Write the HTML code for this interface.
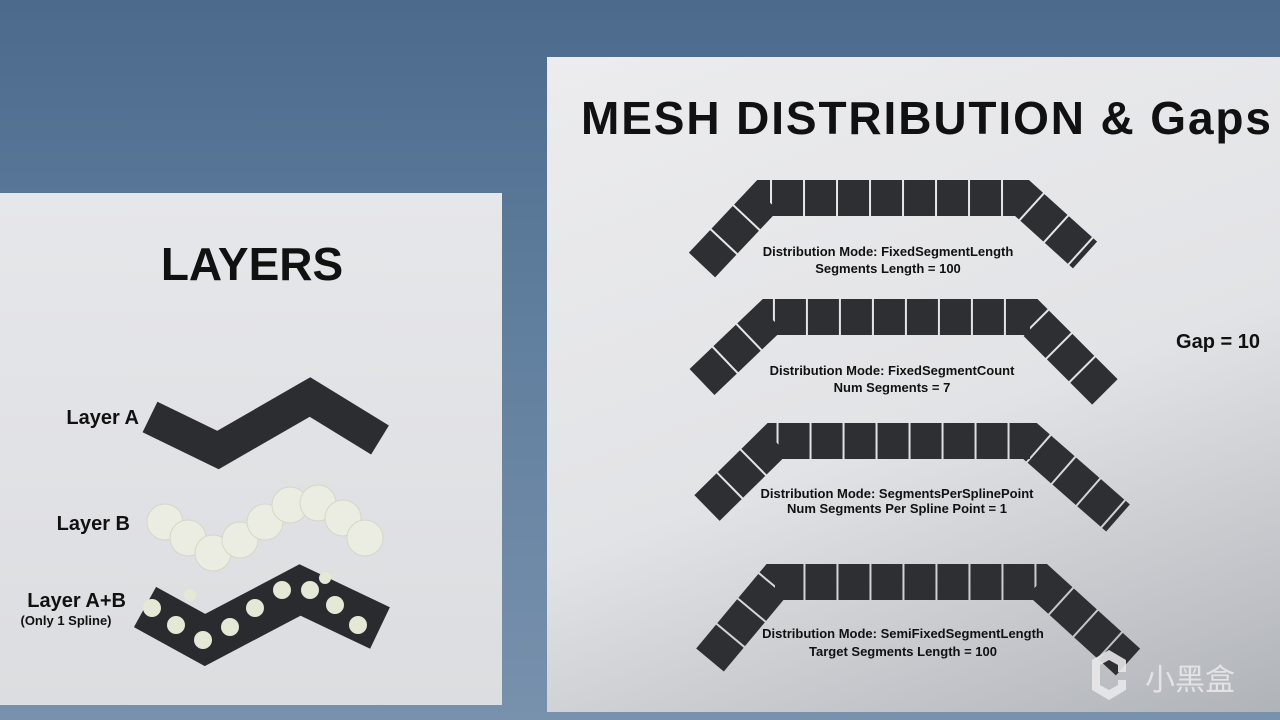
<!DOCTYPE html><html><head><style>
body{margin:0;width:1280px;height:720px;overflow:hidden;background:linear-gradient(180deg,#4c6a8c 0%,#62809f 50%,#7891ad 100%);font-family:"Liberation Sans","Noto Sans CJK SC",sans-serif;position:relative}
.p{position:absolute}
</style></head><body>
<div class="p" style="left:0;top:193px;width:502px;height:512px;background:linear-gradient(180deg,#e6e7ea,#dcdde0)"></div>
<div class="p" style="left:547px;top:57px;width:733px;height:655px;background:linear-gradient(160deg,#ececee 0%,#e2e3e6 55%,#b0b3b8 100%)"></div>
<svg class="p" style="left:0;top:0" width="1280" height="720">
<g font-family="Liberation Sans, sans-serif" font-weight="bold" fill="#111">
<text x="252" y="280" font-size="46" text-anchor="middle">LAYERS</text>
<text x="926" y="134" font-size="46" text-anchor="middle" textLength="690">MESH DISTRIBUTION &amp; Gaps</text>
<text x="139" y="424" font-size="20" text-anchor="end">Layer A</text>
<text x="130" y="530" font-size="20" text-anchor="end">Layer B</text>
<text x="126" y="607" font-size="20" text-anchor="end">Layer A+B</text>
<text x="66" y="625" font-size="13" text-anchor="middle">(Only 1 Spline)</text>
<text x="1218" y="348" font-size="20" text-anchor="middle">Gap = 10</text>
</g>
<g fill="none" stroke="#2c2d30" stroke-width="34" stroke-linejoin="miter">
<polyline points="150,417 218,450 310,397 380,440"/>
</g>
<g fill="#ebede2" stroke="#d4d7c6" stroke-width="1">
<circle cx="165" cy="522" r="18"/><circle cx="188" cy="538" r="18"/><circle cx="213" cy="553" r="18"/><circle cx="240" cy="540" r="18"/><circle cx="265" cy="522" r="18"/><circle cx="290" cy="505" r="18"/><circle cx="318" cy="503" r="18"/><circle cx="343" cy="518" r="18"/><circle cx="365" cy="538" r="18"/>
</g>
<polyline points="145,607 205,640 300,590 380,628" fill="none" stroke="#2a2b2e" stroke-width="46"/>
<g fill="#e4e8d4">
<circle cx="152" cy="608" r="9"/><circle cx="176" cy="625" r="9"/><circle cx="203" cy="640" r="9"/><circle cx="230" cy="627" r="9"/><circle cx="255" cy="608" r="9"/><circle cx="282" cy="590" r="9"/><circle cx="310" cy="590" r="9"/><circle cx="335" cy="605" r="9"/><circle cx="358" cy="625" r="9"/><circle cx="190" cy="595" r="6"/><circle cx="325" cy="578" r="6"/>
</g>
<g fill="none" stroke="#2e2f33" stroke-width="36" stroke-dasharray="31 2">
<polyline points="702,265 765,198 1022,198 1085,255"/>
<polyline points="702,382 770,317 1030,317 1105,392"/>
<polyline points="707,508 775,441 1030,441 1118,518"/>
<polyline points="710,660 775,582 1040,582 1128,662"/>
</g>
<g font-family="Liberation Sans, sans-serif" font-size="13" font-weight="bold" fill="#111" text-anchor="middle">
<text x="888" y="256">Distribution Mode: FixedSegmentLength</text>
<text x="888" y="273">Segments Length = 100</text>
<text x="892" y="375">Distribution Mode: FixedSegmentCount</text>
<text x="892" y="392">Num Segments = 7</text>
<text x="897" y="498">Distribution Mode: SegmentsPerSplinePoint</text>
<text x="897" y="513">Num Segments Per Spline Point = 1</text>
<text x="903" y="638">Distribution Mode: SemiFixedSegmentLength</text>
<text x="903" y="656">Target Segments Length = 100</text>
</g>
<g fill="#e8e8ea" opacity="0.9">
<path d="M1092 660 l17 -10 l17 10 v12 h-8 v-7 l-9 -5 l-9 5 v20 l9 5 l9 -5 v-5 h8 v10 l-17 10 l-17 -10z"/>
<text x="1190" y="690" font-family="Noto Sans CJK SC, sans-serif" font-size="30" text-anchor="middle">小黑盒</text>
</g>
</svg>
</body></html>
